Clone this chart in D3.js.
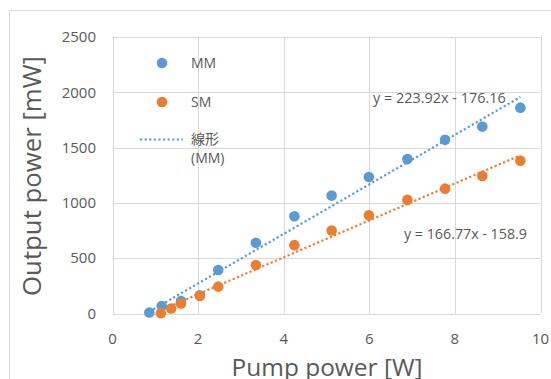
<!DOCTYPE html>
<meta charset="utf-8">
<style>
body { margin: 0; background: #fff; }
svg text { font-family: "Open Sans", "Noto Sans CJK JP", sans-serif; fill: #595959; }
.grid line { stroke: #d9d9d9; stroke-width: 1; }
</style>
<body>
<script src="https://d3js.org/d3.v7.min.js"></script>
<script>
// pump power [W] and output power [mW]
var mmX = [0.86, 1.15, 1.60, 2.04, 2.47, 3.35, 4.25, 5.12, 5.99, 6.89, 7.77, 8.64, 9.53]
var mmY = [9, 68, 113, 165, 393, 640, 879, 1066, 1234, 1396, 1570, 1690, 1861]
var smX = [1.13, 1.37, 1.60, 2.04, 2.47, 3.35, 4.25, 5.12, 5.99, 6.89, 7.77, 8.64, 9.53]
var smY = [3, 45, 90, 158, 243, 438, 618, 750, 888, 1027, 1129, 1243, 1381]
// linear fits shown on the chart
var mmFit = [223.92, -176.16]
var smFit = [166.77, -158.9]
var xTicks = [0, 2, 4, 6, 8, 10]
var yTicks = [0, 500, 1000, 1500, 2000, 2500]

var width = 551, height = 379
var blue = '#5b9bd5', orange = '#ed7d31'

var x = d3.scaleLinear().domain([0, 10]).range([112.5, 540.5])
var y = d3.scaleLinear().domain([0, 2500]).range([313.5, 37])

var svg = d3.select('body').append('svg')
    .attr('width', width)
    .attr('height', height)

// chart frame
svg.append('rect')
    .attr('x', 9.5).attr('y', 10.5)
    .attr('width', 700).attr('height', 500)
    .attr('fill', 'none').attr('stroke', '#d9d9d9')

var grid = svg.append('g').attr('class', 'grid')
grid.selectAll('.gx').data(xTicks).enter().append('line')
    .attr('x1', function (d) { return Math.round(x(d)) + 0.5 })
    .attr('x2', function (d) { return Math.round(x(d)) + 0.5 })
    .attr('y1', y(2500)).attr('y2', y(0))
grid.selectAll('.gy').data(yTicks).enter().append('line')
    .attr('y1', function (d) { return Math.round(y(d)) + 0.5 })
    .attr('y2', function (d) { return Math.round(y(d)) + 0.5 })
    .attr('x1', x(0)).attr('x2', x(10))

svg.selectAll('.xt').data(xTicks).enter().append('text')
    .attr('x', function (d) { return x(d) })
    .attr('y', 344)
    .attr('text-anchor', 'middle')
    .attr('font-size', 15)
    .text(function (d) { return d })

svg.selectAll('.yt').data(yTicks).enter().append('text')
    .attr('x', 96)
    .attr('y', function (d) { return y(d) })
    .attr('dy', '0.35em')
    .attr('text-anchor', 'end')
    .attr('font-size', 15)
    .text(function (d) { return d })

function fit(sel, w) {
    var len = sel.node().getComputedTextLength()
    var fs = +sel.attr('font-size')
    sel.attr('font-size', fs * w / len)
}

fit(svg.append('text')
    .attr('x', 327).attr('y', 376)
    .attr('text-anchor', 'middle')
    .attr('font-size', 22)
    .text('Pump power [W]'), 191)

fit(svg.append('text')
    .attr('transform', 'translate(41,176) rotate(-90)')
    .attr('text-anchor', 'middle')
    .attr('font-size', 22)
    .text('Output power [mW]'), 240)

// trend lines
function trend(xs, f, color) {
    var x0 = d3.min(xs), x1 = d3.max(xs)
    svg.append('line')
        .attr('x1', x(x0)).attr('y1', y(f[0] * x0 + f[1]))
        .attr('x2', x(x1)).attr('y2', y(f[0] * x1 + f[1]))
        .attr('stroke', color)
        .attr('stroke-width', 2.2)
        .attr('stroke-dasharray', '2.2,2.4')
}
trend(mmX, mmFit, blue)
trend(smX, smFit, orange)

function points(xs, ys, color) {
    svg.append('g').selectAll('circle').data(xs).enter().append('circle')
        .attr('cx', function (d) { return x(d) })
        .attr('cy', function (d, i) { return y(ys[i]) })
        .attr('r', 5.3)
        .attr('fill', color)
}
points(mmX, mmY, blue)
points(smX, smY, orange)

fit(svg.append('text')
    .attr('x', 373).attr('y', 98).attr('dy', '0.35em')
    .attr('font-size', 13)
    .text('y = ' + mmFit[0] + 'x - ' + (-mmFit[1])), 133)

fit(svg.append('text')
    .attr('x', 404).attr('y', 234).attr('dy', '0.35em')
    .attr('font-size', 13)
    .text('y = ' + smFit[0] + 'x - ' + (-smFit[1])), 123)

// legend
var lg = svg.append('g')
lg.append('circle').attr('cx', 162).attr('cy', 63).attr('r', 5.3).attr('fill', blue)
lg.append('circle').attr('cx', 162).attr('cy', 102).attr('r', 5.3).attr('fill', orange)
lg.append('line')
    .attr('x1', 140).attr('x2', 183).attr('y1', 139.5).attr('y2', 139.5)
    .attr('stroke', blue).attr('stroke-width', 2.2).attr('stroke-dasharray', '2.2,2.4')
var lt = [['MM', 63], ['SM', 102], ['線形', 139], ['(MM)', 158]]
lg.selectAll('text').data(lt).enter().append('text')
    .attr('x', 191)
    .attr('y', function (d) { return d[1] })
    .attr('dy', '0.35em')
    .attr('font-size', 14)
    .text(function (d) { return d[0] })
</script>
</body>
